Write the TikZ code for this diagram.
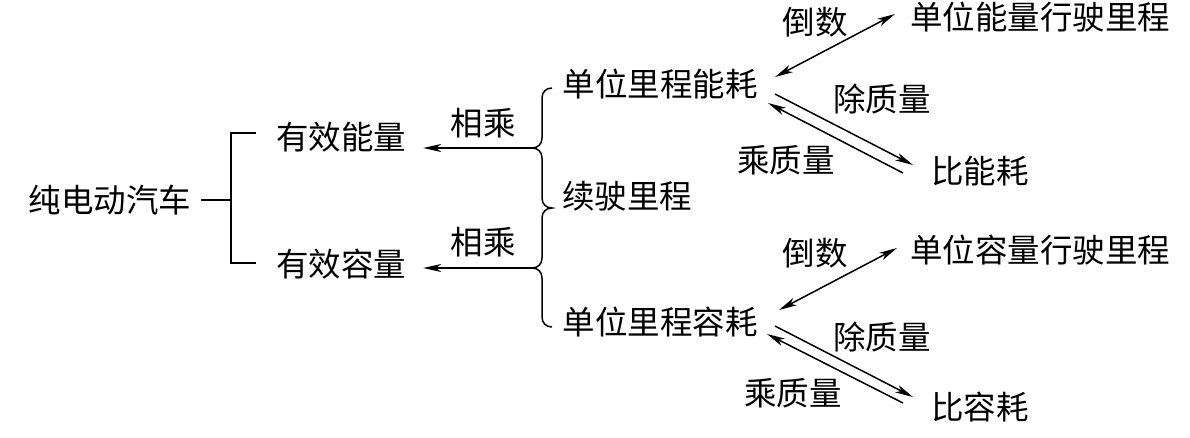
\documentclass[tikz,border=0pt]{standalone}
\usepackage{fontspec}
\newfontfamily\cjk{Noto Sans CJK SC}
\usetikzlibrary{arrows.meta}
\begin{document}
\begin{tikzpicture}[x=1pt,y=-1pt,
  txt/.style={inner sep=0pt,font=\cjk\fontsize{32.5}{34}\selectfont},
  ln/.style={line width=1.5pt},
  arr/.style={ln,-{Stealth[length=18pt,width=8pt,inset=5pt]}},
  darr/.style={ln,{Stealth[length=18pt,width=8pt,inset=5pt]}-{Stealth[length=18pt,width=8pt,inset=5pt]}}]
\useasboundingbox (0,0) rectangle (1190,437);
% nodes
\node[txt] (car) at (110,200) {纯电动汽车};
\node[txt] (energy) at (341,137) {有效能量};
\node[txt] (cap) at (341,264) {有效容量};
\node[txt] (m1) at (483,123) {相乘};
\node[txt] (m2) at (483,242) {相乘};
\node[txt] (ue) at (660,84) {单位里程能耗};
\node[txt] (range) at (627,196) {续驶里程};
\node[txt] (uc) at (660,322) {单位里程容耗};
\node[txt] (re) at (1040,17) {单位能量行驶里程};
\node[txt] (rc) at (1040,250) {单位容量行驶里程};
\node[txt] (se) at (980,171) {比能耗};
\node[txt] (sc) at (980,407) {比容耗};
\node[txt] (d1) at (815,22) {倒数};
\node[txt] (d2) at (815,253) {倒数};
\node[txt] (dm1) at (882,99) {除质量};
\node[txt] (dm2) at (882,337) {除质量};
\node[txt] (mm1) at (786,160) {乘质量};
\node[txt] (mm2) at (793,393) {乘质量};
% left tree
\coordinate (j) at (231,200);
\coordinate (jt) at (231,133);
\coordinate (jb) at (231,263);
\draw[ln] (car.east) ++(10,0) -- (j);
\draw[ln] (jt -| energy.west) ++(-20,0) -- (jt) -- (jb) -- ++(25,0);
% brace
\coordinate (t1) at (532,148);
\coordinate (t2) at (532,268);
\draw[ln] (552,88) .. controls (546,88) and (542,92) .. (542,98)
  -- (542,138) .. controls (542,144) and (538,148) .. (t1)
  .. controls (538,148) and (542,152) .. (542,158)
  -- (542,198) .. controls (542,204) and (546,208) .. (552,208)
  .. controls (546,208) and (542,212) .. (542,218)
  -- (542,258) .. controls (542,264) and (538,268) .. (t2)
  .. controls (538,268) and (542,272) .. (542,278)
  -- (542,317) .. controls (542,323) and (546,327) .. (552,327);
\draw[arr,shorten >=17pt] (t1) -- (t1 -| energy.east);
\draw[arr,shorten >=17pt] (t2) -- (t2 -| cap.east);
% upper right arrows
\coordinate (a1) at (775,77);  \coordinate (b1) at (895,14);
\coordinate (a2) at (775,94);  \coordinate (b2) at (913,165);
\coordinate (a3) at (903,173); \coordinate (b3) at (768,103);
\draw[darr] (a1) -- (b1);
\draw[arr] (a2) -- (b2);
\draw[arr] (a3) -- (b3);
% lower right arrows
\coordinate (a4) at (779,310); \coordinate (b4) at (897,248);
\coordinate (a5) at (775,326); \coordinate (b5) at (913,397);
\coordinate (a6) at (903,403); \coordinate (b6) at (767,334);
\draw[darr] (a4) -- (b4);
\draw[arr] (a5) -- (b5);
\draw[arr] (a6) -- (b6);
\end{tikzpicture}
\end{document}
